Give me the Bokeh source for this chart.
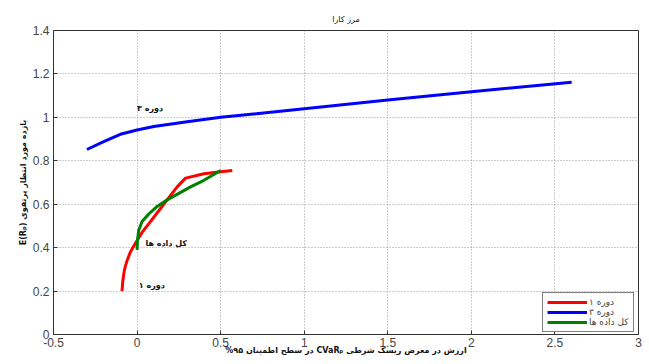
from bokeh.plotting import figure
from bokeh.models import Label, FixedTicker, Legend, LegendItem
from bokeh.embed import file_html
from bokeh.resources import INLINE

# ---- data ----
p1_cvar = [-0.09, -0.085, -0.075, -0.06, -0.04, -0.01, 0.03, 0.08, 0.13, 0.19, 0.24, 0.29, 0.40, 0.50, 0.57]
p1_ret  = [0.20, 0.25, 0.30, 0.34, 0.38, 0.42, 0.47, 0.52, 0.57, 0.63, 0.68, 0.72, 0.74, 0.75, 0.755]

p3_cvar = [-0.30, -0.20, -0.10, 0.00, 0.10, 0.30, 0.50, 1.00, 1.50, 2.00, 2.60]
p3_ret  = [0.852, 0.888, 0.922, 0.942, 0.958, 0.980, 1.000, 1.040, 1.080, 1.118, 1.162]

all_cvar = [0.0, 0.003, 0.01, 0.03, 0.07, 0.12, 0.18, 0.25, 0.32, 0.40, 0.50]
all_ret  = [0.39, 0.44, 0.48, 0.52, 0.555, 0.59, 0.62, 0.65, 0.68, 0.71, 0.755]

series_names = ["دوره ۱", "دوره ۳", "کل داده ها"]
series_colors = ["#ff0000", "#0000ff", "#008000"]

x_ticks = [-0.5, 0, 0.5, 1, 1.5, 2, 2.5, 3]
x_tick_labels = ["-0.5", "0", "0.5", "1", "1.5", "2", "2.5", "3"]
y_ticks = [0, 0.2, 0.4, 0.6, 0.8, 1.0, 1.2, 1.4]
y_tick_labels = ["0", "0.2", "0.4", "0.6", "0.8", "1", "1.2", "1.4"]

title_text = "مرز کارا"
x_label = "\u202bارزش در معرض ریسک شرطی CVaRₚ در سطح اطمینان ۹۵%\u202c"
y_label = "E(Rₚ) بازده مورد انتظار پرتفوی"

PFONT = "DejaVu Sans"

p = figure(frame_width=585, frame_height=304, x_range=(-0.5, 3), y_range=(0, 1.4),
           output_backend="svg", toolbar_location=None,
           min_border_left=53, min_border_top=30, min_border_bottom=28, min_border_right=9,
           background_fill_color="white", border_fill_color="white",
           title=title_text, x_axis_label=x_label, y_axis_label=y_label)

p.title.align = "center"
p.title.text_font = PFONT
p.title.text_font_size = "8px"
p.title.text_font_style = "normal"
p.title.text_color = "#111111"
p.title.standoff = 14

p.outline_line_color = "#333333"
p.outline_line_width = 1

for ax, ticks, labels in ((p.xaxis[0], x_ticks, x_tick_labels), (p.yaxis[0], y_ticks, y_tick_labels)):
    ax.ticker = FixedTicker(ticks=ticks)
    ax.major_label_overrides = {t: l for t, l in zip(ticks, labels)}
    ax.major_tick_in = 4
    ax.major_tick_out = 0
    ax.minor_tick_in = 0
    ax.minor_tick_out = 0
    ax.axis_line_color = "#333333"
    ax.major_tick_line_color = "#333333"
    ax.major_label_text_font = "Liberation Sans"
    ax.major_label_text_font_size = "12px"
    ax.major_label_text_color = "#444444"
    ax.axis_label_text_font = PFONT
    ax.axis_label_text_font_size = "8px"
    ax.axis_label_text_font_style = "bold"
    ax.axis_label_text_color = "#111111"
p.xaxis[0].major_label_standoff = 3
p.yaxis[0].major_label_standoff = 4
p.xaxis[0].axis_label_standoff = -4
p.yaxis[0].axis_label_standoff = 2

for g in (p.xgrid[0], p.ygrid[0]):
    g.grid_line_color = "#999999"
    g.grid_line_dash = "1 2"
    g.grid_line_width = 1

r1 = p.line(p1_cvar, p1_ret, line_color=series_colors[0], line_width=3)
r3 = p.line(p3_cvar, p3_ret, line_color=series_colors[1], line_width=3)
ra = p.line(all_cvar, all_ret, line_color=series_colors[2], line_width=3)

legend = Legend(items=[LegendItem(label=series_names[0], renderers=[r1]),
                       LegendItem(label=series_names[1], renderers=[r3]),
                       LegendItem(label=series_names[2], renderers=[ra])],
                location=(489, 2), margin=0, padding=4, spacing=0,
                glyph_width=40, glyph_height=10, label_height=10,
                label_text_font=PFONT, label_text_font_size="9px", label_standoff=2,
                border_line_color="#000000", border_line_width=1,
                background_fill_color="white", background_fill_alpha=1)
p.add_layout(legend)

def lab(x, y, text):
    p.add_layout(Label(x=x, y=y, text=text, text_font=PFONT, text_font_size="8px",
                       text_align="left", text_baseline="middle",
                       text_font_style="bold", text_color="#111111"))

# in-plot annotations
lab(0.0, 1.041, "دوره ۳")
lab(0.05, 0.419, "کل داده ها")
lab(0.01, 0.226, "دوره ۱")

open("out.html", "w").write(file_html(p, INLINE))
